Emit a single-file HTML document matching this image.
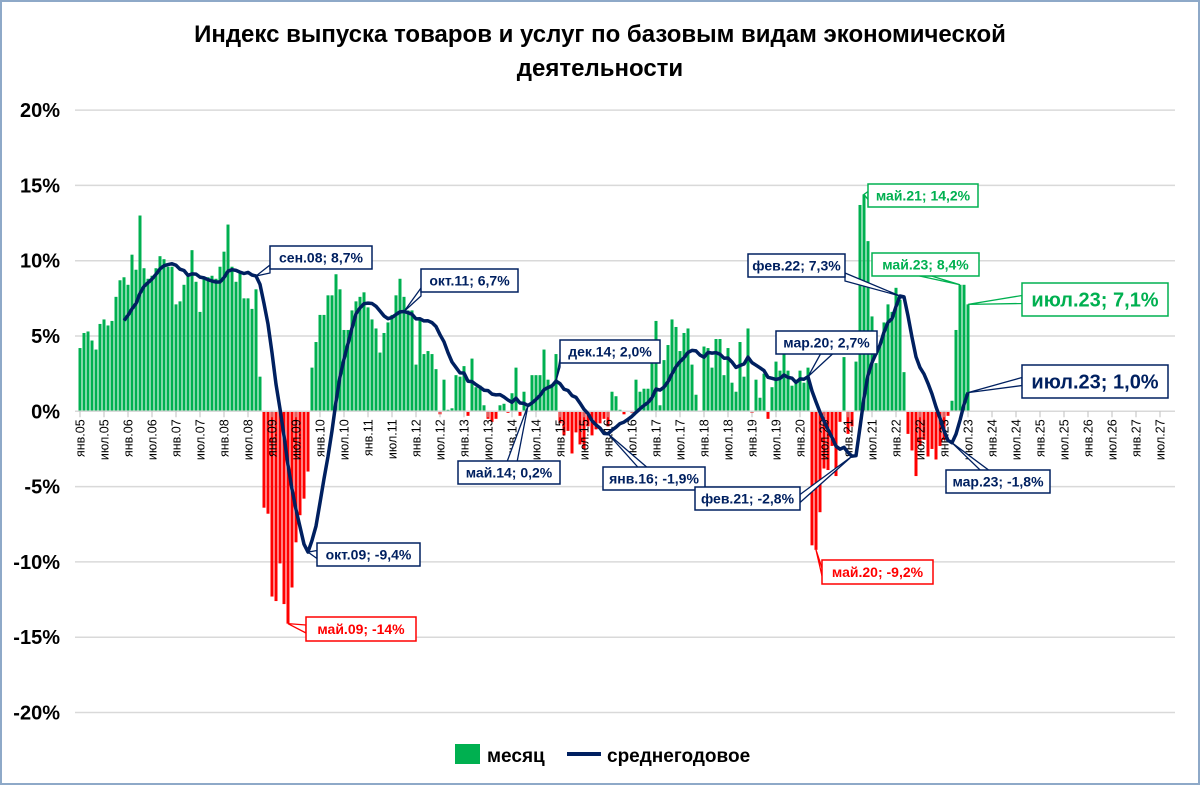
<!DOCTYPE html>
<html><head><meta charset="utf-8">
<style>
html,body{margin:0;padding:0;background:#fff;}
#wrap{position:relative;width:1200px;height:785px;overflow:hidden;font-family:"Liberation Sans",sans-serif;}
svg text{font-family:"Liberation Sans",sans-serif;}
</style></head>
<body>
<div id="wrap">
<svg id="chart" width="1200" height="785" viewBox="0 0 1200 785">
<rect x="1" y="1" width="1198" height="783" fill="#fff" stroke="#8ea9c8" stroke-width="2"/>
<text x="600" y="42" text-anchor="middle" font-size="24" font-weight="bold" fill="#000">Индекс выпуска товаров и услуг по базовым видам экономической</text>
<text x="600" y="76" text-anchor="middle" font-size="24" font-weight="bold" fill="#000">деятельности</text>
<g id="grid"></g><g id="bars"></g><g id="axis"></g><g id="line"></g><g id="notes"></g>
<g>
<rect x="455" y="744" width="25" height="20" fill="#00b050"/>
<text x="487" y="762" font-size="19" font-weight="bold" fill="#000">месяц</text>
<line x1="567" y1="754" x2="601" y2="754" stroke="#002060" stroke-width="4"/>
<text x="607" y="762" font-size="19" font-weight="bold" fill="#000">среднегодовое</text>
</g>
</svg>
</div>
<script>
// monthly values (%) from Jan 2005
const monthValues = [
4.2,5.2,5.3,4.7,4.1,5.8,6.1,5.7,6.0,7.6,8.7,8.9,
8.4,10.4,9.4,13.0,9.5,8.8,9.0,9.5,10.3,10.1,9.6,9.6,
7.1,7.3,8.4,9.1,10.7,8.6,6.6,8.9,8.9,9.0,8.8,9.6,
10.6,12.4,9.6,8.6,9.3,7.5,7.5,6.8,8.1,2.3,-6.4,-6.8,
-12.3,-12.6,-10.1,-12.8,-14.1,-11.7,-8.7,-6.9,-5.8,-4.0,2.9,4.6,
6.4,6.4,7.7,7.7,9.1,8.1,5.4,5.4,6.7,7.3,7.6,7.9,
6.9,6.1,5.5,3.9,5.2,5.9,6.4,7.7,8.8,7.6,6.7,6.7,
3.1,6.2,3.8,4.0,3.8,2.8,-0.2,2.1,0.1,0.2,2.4,2.3,
3.0,-0.3,3.5,1.6,1.7,0.4,-0.5,-0.7,-0.5,0.4,0.5,-0.1,
1.2,2.9,-0.3,1.3,0.0,2.4,2.4,2.4,4.1,2.1,1.8,3.8,
-0.8,-1.6,-1.3,-2.8,-1.4,-2.2,-2.5,-1.0,-1.6,-1.2,-0.8,-0.5,
-1.0,1.3,1.0,0.1,-0.2,0.0,-0.1,2.1,1.3,1.5,1.5,3.3,
6.0,0.4,3.4,4.4,6.1,5.6,4.0,5.2,5.5,3.1,1.1,0.0,
4.3,4.2,2.9,4.8,4.8,2.4,4.2,1.9,1.3,4.6,2.3,5.5,
-0.1,2.1,0.9,2.5,-0.5,1.6,3.3,2.7,4.0,2.7,1.7,2.1,
2.7,1.9,2.9,-8.9,-9.2,-6.7,-3.8,-3.9,-2.3,-4.3,-0.7,3.6,
-1.5,-1.0,3.3,13.7,14.4,11.3,6.3,3.2,4.5,5.9,7.1,6.6,
8.2,7.4,2.6,-1.5,-2.6,-4.3,-2.3,-1.9,-3.0,-2.5,-3.2,-2.3,
-1.9,-0.3,0.7,5.4,8.4,8.4,7.1
];
const yTicks = [20,15,10,5,0,-5,-10,-15,-20];
const monthNames = ["янв","июл"];
const firstYear = 5, lastLabelMonth = 270;

const X0 = 80, DX = 4, Y0 = 411.3, DY = 15.06;
const xs = i => X0 + DX*i;
const ys = v => Y0 - DY*v;
const NS = "http://www.w3.org/2000/svg";
function mk(tag, attrs, parent){const e=document.createElementNS(NS,tag);for(const k in attrs)e.setAttribute(k,attrs[k]);parent.appendChild(e);return e;}

const grid = document.getElementById('grid');
yTicks.forEach(t=>{
  const l = mk('line',{x1:75,x2:1175,y1:ys(t),y2:ys(t),stroke:'#d9d9d9','stroke-width':1.5},grid);
  
  
  const tx = mk('text',{x:60,y:ys(t)+7,'text-anchor':'end','font-size':20,'font-weight':'bold',fill:'#000'},grid);
  tx.textContent = t+'%';
  
  
});

const bars = document.getElementById('bars');
monthValues.forEach((v,i)=>{
  const y = v>=0 ? ys(v) : Y0;
  const r = mk('rect',{x:xs(i)-1.5,y:y,width:3,height:Math.abs(v)*DY,fill:v>=0?'#00b050':'#ff0000'},bars);
  
  
});

const axis = document.getElementById('axis');
const ax = mk('line',{x1:75,x2:1175,y1:Y0,y2:Y0,stroke:'#d9d9d9','stroke-width':1.5},axis);


for(let m=0;m<=lastLabelMonth;m+=6){
  const x = xs(m);
  const tk = mk('line',{x1:x,x2:x,y1:Y0,y2:Y0+6,stroke:'#bfbfbf','stroke-width':1},axis);
  
  
  const yr = firstYear + Math.floor(m/12);
  const label = monthNames[(m%12)/6] + '.' + String(yr).padStart(2,'0');
  const t = mk('text',{x:0,y:0,'text-anchor':'end','font-size':12.5,fill:'#000',transform:`translate(${x+4.5},${Y0+8}) rotate(-90)`},axis);
  t.textContent = label;
  
  
}

// 12-month rolling average
const avg = [];
for(let i=11;i<monthValues.length;i++){
  let s=0;for(let k=i-11;k<=i;k++)s+=monthValues[k];
  avg.push([i,s/12]);
}
const line = document.getElementById('line');
const p = mk('path',{d:avg.map((a,j)=>(j?'L':'M')+xs(a[0]).toFixed(1)+','+ys(a[1]).toFixed(1)).join(''),fill:'none',stroke:'#002060','stroke-width':3.5,'stroke-linejoin':'round'},line);


const avgAt = i => { const f = avg.find(a=>a[0]===i); return f?f[1]:0; };

const notes = document.getElementById('notes');
const callouts = [
 ['сен.08; 8,7%',44,'avg',270,246,102,23,'#002060',14],
 ['окт.11; 6,7%',81,'avg',421,269,97,23,'#002060',14],
 ['дек.14; 2,0%',119,'avg',560,340,100,23,'#002060',14],
 ['май.14; 0,2%',112,'avg',458,461,102,23,'#002060',14],
 ['янв.16; -1,9%',132,'avg',603,467,102,23,'#002060',14],
 ['мар.20; 2,7%',182,'avg',776,331,101,23,'#002060',14],
 ['фев.22; 7,3%',205,'avg',748,254,97,23,'#002060',14],
 ['фев.21; -2,8%',193,'avg',695,487,105,23,'#002060',14],
 ['окт.09; -9,4%',57,'avg',317,543,103,23,'#002060',14],
 ['мар.23; -1,8%',218,'avg',946,470,104,23,'#002060',14],
 ['июл.23; 1,0%',222,'avg',1022,365,146,33,'#002060',20],
 ['май.09; -14%',52,'bar',306,617,110,24,'#ff0000',14],
 ['май.20; -9,2%',184,'bar',822,560,111,24,'#ff0000',14],
 ['май.21; 14,2%',196,'bar',868,184,110,23,'#00b050',14],
 ['май.23; 8,4%',220,'bar',872,253,107,23,'#00b050',14],
 ['июл.23; 7,1%',222,'bar',1022,283,146,33,'#00b050',20]
];
callouts.forEach(c=>{
  const [txt,i,ser,bx,by,w,h,col,fs] = c;
  const v = ser==='avg' ? avgAt(i) : monthValues[i];
  const px = xs(i), py = ys(v);
  const cx = bx + w/2, cy = by + h/2;
  const ex = px < bx ? bx : (px > bx+w ? bx+w : cx);
  const ey = py < by ? by+h/2 : (py > by+h ? by+h : cy);
  const g = mk('g',{},notes);
  
  
  const horiz = (px<bx||px>bx+w);
  const pts = horiz ? `${ex},${ey-4} ${px},${py} ${ex},${ey+4}` : `${ex-6},${ey} ${px},${py} ${ex+6},${ey}`;
  mk('polygon',{points:pts,fill:'#fff',stroke:col,'stroke-width':1.3},g);
  mk('rect',{x:bx,y:by,width:w,height:h,fill:'#fff',stroke:col,'stroke-width':1.5},g);
  const t = mk('text',{x:cx,y:cy+fs*0.36,'text-anchor':'middle','font-size':fs,'font-weight':'bold',fill:col},g);
  t.textContent = txt;
});
</script>
</body></html>
